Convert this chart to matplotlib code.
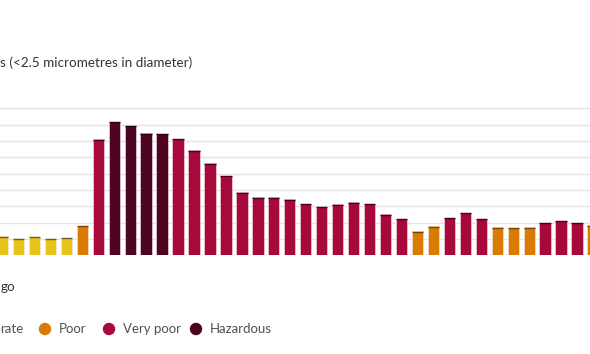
import numpy as np
import matplotlib
matplotlib.use("Agg")
import matplotlib.pyplot as plt

# PM2.5 readings, one bar per hour
pm25 = [58, 51, 57, 51, 53, 90, 355, 409, 397, 374, 372, 357, 322, 282, 243,
        193, 178, 178, 171, 157, 149, 156, 162, 158, 126, 111, 74, 89, 114,
        130, 111, 86, 84, 86, 99, 105, 100, 92]

categories = ["Moderate", "Poor", "Very poor", "Hazardous"]
thresholds = [62, 97, 370]  # upper bounds of Moderate, Poor, Very poor
cat_colors = ["#e8c31c", "#d97b00", "#a8093b", "#4f0522"]
cap_colors = ["#6e5c18", "#7a4300", "#4a0018", "#240010"]

# the reference is cropped at both sides, so only the visible part of these texts
title = "s (<2.5 micrometres in diameter)"
xlabel = "go"
legend_labels = ["rate", "Poor", "Very poor", "Hazardous"]

W, H, DPI = 590, 354, 100
plt.rcParams['font.family'] = ['Lato', 'DejaVu Sans']
fig = plt.figure(figsize=(W / DPI, H / DPI), dpi=DPI)

# pixel geometry of the plot area (chart is cropped on both sides)
pitch = 15.96
x0_px = 2.5
ax_left, ax_right = -40, 630
base_px = H - 255.3
unit_px = 16.33 / 50
ymax = 500
ax = fig.add_axes([ax_left / W, base_px / H, (ax_right - ax_left) / W, ymax * unit_px / H])
ax.set_xlim((ax_left - x0_px) / pitch, (ax_right - x0_px) / pitch)
ax.set_ylim(0, ymax)

vals = np.array(pm25)
idx = np.digitize(vals, thresholds)
x = np.arange(len(vals))
colors = [cat_colors[i] for i in idx]
bw = 0.71
ax.bar(x, vals, width=bw, color=colors, edgecolor="#f6e8ee", linewidth=0.4, zorder=3)
ax.hlines(vals - 1.2, x - bw / 2, x + bw / 2, colors=[cap_colors[i] for i in idx],
          linewidth=1.0, zorder=4)

ax.set_yticks(np.arange(0, 451, 50))
ax.yaxis.grid(True, color="#e3e3e3", linewidth=1.0, zorder=0)
ax.tick_params(left=False, bottom=False, labelleft=False, labelbottom=False)
for s in ax.spines.values():
    s.set_visible(False)

txt = "#333333"
fig.text(0.5 / W, 1 - 63 / H, title, ha="left", va="center", fontsize=9.7, color=txt)
fig.text(0.5 / W, 1 - 287 / H, xlabel, ha="left", va="center", fontsize=9.7, color=txt)

# legend
leg_y = 1 - 329 / H
circle_px = [-48, 45, 109, 196]
for lab, col, cx in zip(legend_labels, cat_colors, circle_px):
    if cx > 0:
        fig.patches.append(matplotlib.patches.Ellipse((cx / W, leg_y), 11 / W, 11 / H,
                                                      transform=fig.transFigure, color=col))
        fig.text((cx + 14) / W, leg_y, lab, ha="left", va="center", fontsize=9.5, color="#505050")
    else:
        fig.text(0.5 / W, leg_y, lab, ha="left", va="center", fontsize=9.5, color="#505050")

fig.savefig("out.png", dpi=DPI)
